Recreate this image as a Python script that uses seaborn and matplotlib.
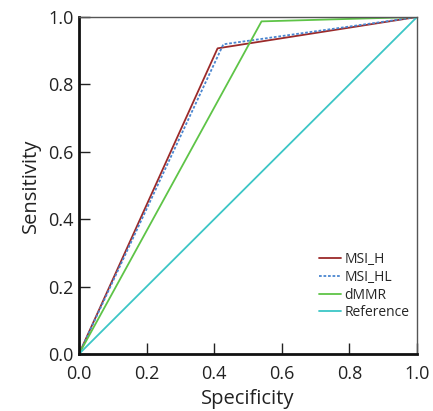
import matplotlib
matplotlib.use("Agg")
import matplotlib.pyplot as plt
import seaborn as sns
import pandas as pd

# ROC points
msi_h_x = [0.0, 0.41, 1.0]
msi_h_y = [0.0, 0.907, 1.0]
msi_hl_x = [0.0, 0.427, 1.0]
msi_hl_y = [0.0, 0.919, 1.0]
dmmr_x = [0.0, 0.54, 1.0]
dmmr_y = [0.0, 0.987, 1.0]
ref_x = [0.0, 1.0]
ref_y = [0.0, 1.0]

names = ["MSI_H", "MSI_HL", "dMMR", "Reference"]
colors = ["#9b2a2a", "#4a86d0", "#5ec447", "#3cc6c6"]
dashes = [(), (1.5, 1), (), ()]
ticks = [0, 0.2, 0.4, 0.6, 0.8, 1.0]
tick_labels = ["0.0", "0.2", "0.4", "0.6", "0.8", "1.0"]

rows = []
for name, xs, ys in zip(names, [msi_h_x, msi_hl_x, dmmr_x, ref_x],
                        [msi_h_y, msi_hl_y, dmmr_y, ref_y]):
    for x, y in zip(xs, ys):
        rows.append({"Specificity": x, "Sensitivity": y, "curve": name})
df = pd.DataFrame(rows)

sns.set_style("white")
plt.rcParams['font.family'] = ['Open Sans', 'DejaVu Sans']

fig = plt.figure(figsize=(4.33, 4.11), dpi=100)
ax = fig.add_axes([79 / 433, 57 / 411, 338 / 433, 337 / 411])

sns.lineplot(data=df, x="Specificity", y="Sensitivity", hue="curve", style="curve",
             palette=dict(zip(names, colors)), dashes=dict(zip(names, dashes)),
             hue_order=names, style_order=names, lw=1.3, ax=ax, sort=False)

ax.set_xlim(0, 1)
ax.set_ylim(0, 1)
ax.set_xticks(ticks)
ax.set_yticks(ticks)
ax.set_xticklabels(tick_labels)
ax.set_yticklabels(tick_labels)
ax.tick_params(direction="in", length=8, width=1, labelsize=13, colors="#222222",
               bottom=True, left=True)
ax.tick_params(axis="x", pad=8)
ax.tick_params(axis="y", pad=4)
ax.set_xlabel("Specificity", fontsize=14.5, color="#222222", labelpad=4)
ax.set_ylabel("Sensitivity", fontsize=14.5, color="#222222", labelpad=5)

for side in ["left", "bottom"]:
    ax.spines[side].set_color("#111111")
    ax.spines[side].set_linewidth(2)
for side in ["top", "right"]:
    ax.spines[side].set_color("#555555")
    ax.spines[side].set_linewidth(1)

leg = ax.legend(loc="lower left", bbox_to_anchor=(0.71, 0.1), frameon=False, fontsize=10,
                handlelength=1.55, labelspacing=0.2, handletextpad=0.3,
                borderaxespad=0, borderpad=0)

fig.savefig("out.png", dpi=100)
